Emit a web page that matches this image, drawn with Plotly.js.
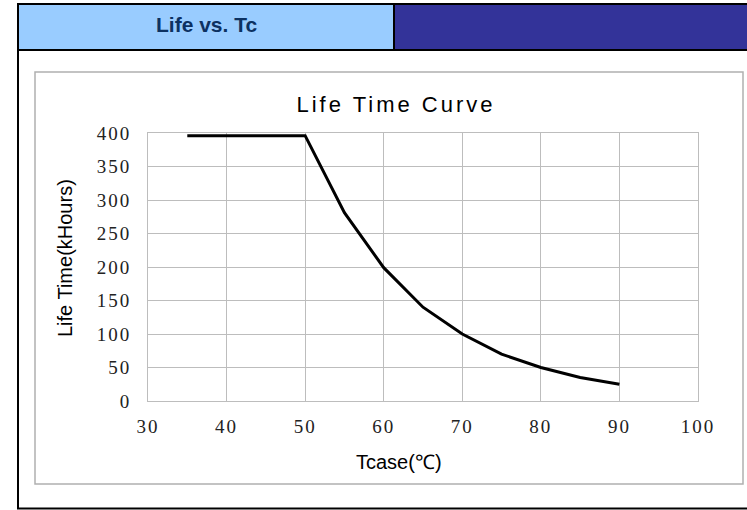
<!DOCTYPE html>
<html>
<head>
<meta charset="utf-8">
<script src="https://cdn.plot.ly/plotly-3.0.1.min.js"></script>
<style>
  html, body { margin: 0; padding: 0; background: #ffffff; }
  #chart { width: 747px; height: 510px; }
  .gtitle { letter-spacing: 3px; }
  .xtick text, .ytick text { letter-spacing: 2px; }
</style>
</head>
<body>
<div id="chart"></div>
<script>
// ---- data ----
const caseTemp = [35, 40, 45, 50, 55, 60, 65, 70, 75, 80, 85, 90];
const lifeKHours = [396, 396, 396, 396, 281, 199, 140, 100, 70, 50, 35, 25];
const xTicks = [30, 40, 50, 60, 70, 80, 90, 100];
const yTicks = [0, 50, 100, 150, 200, 250, 300, 350, 400];
const headerLabel = 'Life vs. Tc';
const chartTitle = 'Life Time Curve';
const xTitle = 'Tcase(℃)';
const yTitle = 'Life Time(kHours)';

// ---- geometry helpers (pixel -> paper) ----
const W = 747, H = 510;
const M = { l: 148, r: 49, t: 133, b: 109 };
const PW = W - M.l - M.r, PH = H - M.t - M.b;
const px = x => (x - M.l) / PW;
const py = y => (H - M.b - y) / PH;

function rect(x0, y0, x1, y1, fill, line, lw) {
  return { type: 'rect', xref: 'paper', yref: 'paper', layer: 'below',
    x0: px(x0), x1: px(x1), y0: py(y1), y1: py(y0),
    fillcolor: fill || 'rgba(0,0,0,0)',
    line: { color: line || 'rgba(0,0,0,0)', width: lw || 0 } };
}
function seg(x0, y0, x1, y1, color, lw) {
  return { type: 'line', xref: 'paper', yref: 'paper', layer: 'above',
    x0: px(x0), x1: px(x1), y0: py(y0), y1: py(y1),
    line: { color: color, width: lw } };
}

const shapes = [
  rect(19, 5, 394, 49, '#99CCFF'),
  rect(394, 5, 747, 49, '#333399'),
  rect(35, 72, 743, 484, null, '#b0b0b0', 1.5),
  seg(17, 4, 747, 4, '#000000', 2),
  seg(17, 50, 747, 50, '#000000', 2),
  seg(394, 3, 394, 50, '#000000', 2),
  seg(18, 3, 18, 509, '#000000', 2),
  seg(17, 508.5, 747, 508.5, '#000000', 2)
];

const annotations = [
  { text: headerLabel, xref: 'paper', yref: 'paper', x: px(206), y: py(25),
    xanchor: 'center', yanchor: 'middle', showarrow: false,
    font: { family: 'Liberation Sans, Arial, sans-serif', size: 21, color: '#0c3161', weight: 'bold' } },
  { text: xTitle, xref: 'paper', yref: 'paper', x: px(399), y: py(462),
    xanchor: 'center', yanchor: 'middle', showarrow: false,
    font: { family: 'Liberation Sans, Arial, sans-serif', size: 20, color: '#000000' } },
  { text: yTitle, xref: 'paper', yref: 'paper', x: px(65), y: py(258),
    xanchor: 'center', yanchor: 'middle', showarrow: false, textangle: -90,
    font: { family: 'Liberation Sans, Arial, sans-serif', size: 20, color: '#000000' } }
];

const trace = {
  x: caseTemp, y: lifeKHours, type: 'scatter', mode: 'lines',
  line: { color: '#000000', width: 3 }, hoverinfo: 'skip'
};

const tickFont = { family: 'Liberation Serif, Times New Roman, serif', size: 19, color: '#222222' };

const layout = {
  width: W, height: H,
  margin: M,
  paper_bgcolor: '#ffffff', plot_bgcolor: '#ffffff',
  showlegend: false,
  title: { text: chartTitle, xref: 'container', yref: 'container',
    x: 396 / W, y: 1 - 104 / H, xanchor: 'center', yanchor: 'middle',
    font: { family: 'Liberation Sans, Arial, sans-serif', size: 22, color: '#000000' } },
  xaxis: {
    range: [30, 100], tickmode: 'array', tickvals: xTicks, ticktext: xTicks.map(String),
    showgrid: true, gridcolor: '#bdbdbd', gridwidth: 1,
    showline: true, linecolor: '#bdbdbd', linewidth: 1, mirror: true,
    zeroline: false, ticks: '', ticklabelstandoff: 8, tickfont: tickFont, fixedrange: true
  },
  yaxis: {
    range: [0, 400], tickmode: 'array', tickvals: yTicks, ticktext: yTicks.map(String),
    showgrid: true, gridcolor: '#bdbdbd', gridwidth: 1,
    showline: true, linecolor: '#bdbdbd', linewidth: 1, mirror: true,
    zeroline: false, ticks: '', ticklabelstandoff: 12, tickfont: tickFont, fixedrange: true
  },
  shapes: shapes,
  annotations: annotations
};

Plotly.newPlot('chart', [trace], layout, { displayModeBar: false, staticPlot: true });
</script>
</body>
</html>
